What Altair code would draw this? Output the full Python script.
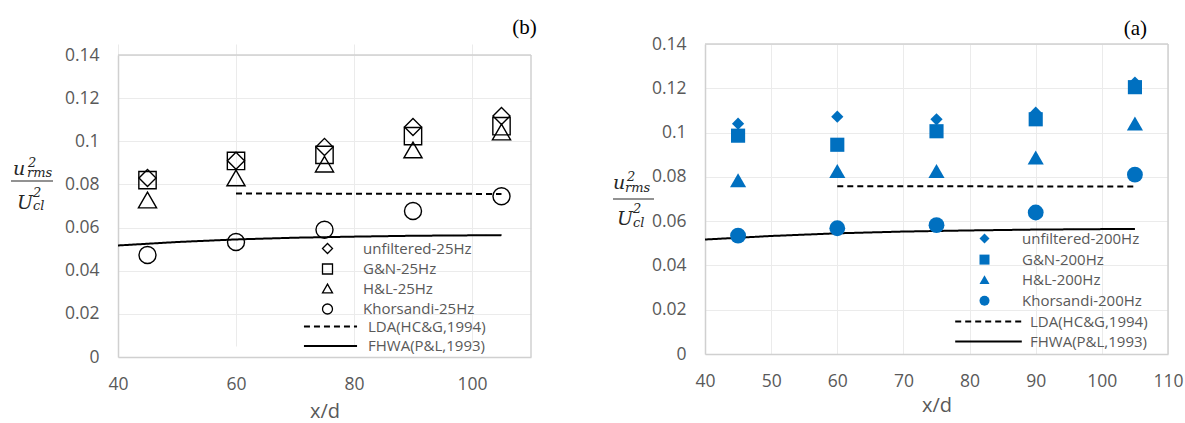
import altair as alt
import pandas as pd

# ---------------- data ----------------
x_pos = [45, 60, 75, 90, 105]

series_b = ["unfiltered-25Hz", "G&N-25Hz", "H&L-25Hz", "Khorsandi-25Hz"]
unfilt_25 = [0.083, 0.091, 0.0974, 0.1066, 0.1117]
gn_25 = [0.082, 0.0909, 0.0937, 0.1024, 0.107]
hl_25 = [0.0728, 0.083, 0.0894, 0.096, 0.1043]
khor_25 = [0.0473, 0.0533, 0.059, 0.0677, 0.0745]

series_a = ["unfiltered-200Hz", "G&N-200Hz", "H&L-200Hz", "Khorsandi-200Hz"]
unfilt_200 = [0.104, 0.1072, 0.106, 0.109, 0.1226]
gn_200 = [0.0986, 0.0945, 0.1006, 0.106, 0.1205]
hl_200 = [0.0785, 0.0826, 0.0826, 0.0887, 0.1041]
khor_200 = [0.0535, 0.0568, 0.0582, 0.0639, 0.081]

ref_names = ["LDA(HC&G,1994)", "FHWA(P&L,1993)"]
lda_x = [60, 105]
lda_y = [0.0758, 0.0756]
fhwa_x = [40, 50, 60, 70, 80, 90, 100, 105]
fhwa_y = [0.0517, 0.0533, 0.0545, 0.0553, 0.0558, 0.0562, 0.0564, 0.0565]

y_ticks = [0, 0.02, 0.04, 0.06, 0.08, 0.1, 0.12, 0.14]
x_ticks_b = [40, 60, 80, 100]
x_ticks_a = [40, 50, 60, 70, 80, 90, 100, 110]
x_domain = [40, 110]
y_domain = [0, 0.14]

shapes = ["diamond", "square", "triangle-up", "circle"]

LABEL_FONT = "Open Sans"
GREY = "#595959"
BLUE = "#0070C0"
FRAME = "#d0d0d0"


def frac_layers(pieces, bar, dy):
    layers = []
    for txt, px, py, fs in pieces:
        layers.append(
            alt.Chart(pd.DataFrame({"t": [txt]}))
            .mark_text(font="DejaVu Serif", fontStyle="italic", fontSize=fs,
                       align="left", baseline="alphabetic", color="#262626")
            .encode(text="t:N", x=alt.value(px), y=alt.value(py + dy))
        )
    x1, x2, yb = bar
    layers.append(
        alt.Chart(pd.DataFrame({"t": [0]}))
        .mark_rule(color="#262626", strokeWidth=1.2)
        .encode(x=alt.value(x1), x2=alt.value(x2), y=alt.value(yb + dy))
    )
    return layers


def panel(series, vals, sizes, filled, color, x_ticks, width, height, top_gap,
          shape_leg, line_leg, frac, leg_row_pad, ttl, ttl_dx, ttl_offset, xt_pad):
    rows = []
    for name, v, sz in zip(series, vals, sizes):
        for xx, yy in zip(x_pos, v):
            rows.append({"x": xx, "y": yy, "series": name, "sz": sz})
    pts = pd.DataFrame(rows)

    lines = pd.DataFrame(
        [{"x": a, "y": b, "ref": ref_names[0]} for a, b in zip(lda_x, lda_y)]
        + [{"x": a, "y": b, "ref": ref_names[1]} for a, b in zip(fhwa_x, fhwa_y)]
    )

    xs = alt.Scale(domain=x_domain, nice=False, zero=False)
    ys = alt.Scale(domain=y_domain, nice=False, range=[height, top_gap])
    x_axis = alt.Axis(values=x_ticks, title="x/d", grid=True, gridColor="#ebebeb",
                      ticks=False, domainColor=FRAME, domainWidth=1.5,
                      labelFont=LABEL_FONT, labelFontSize=17.5, labelColor=GREY,
                      labelPadding=18, titleFont=LABEL_FONT, titleFontSize=20,
                      titleColor=GREY, titleFontWeight="normal", titlePadding=xt_pad,
                      labelFlush=False)
    y_axis = alt.Axis(values=y_ticks, title=None, grid=True, gridColor="#ebebeb",
                      ticks=False, domainColor=FRAME, domainWidth=1.5,
                      labelExpr="format(datum.value, '.2~f')",
                      labelFont=LABEL_FONT, labelFontSize=17.5, labelColor=GREY,
                      labelPadding=19)

    pts_layer = (
        alt.Chart(pts)
        .mark_point(filled=filled, strokeWidth=1.4, opacity=1, color=color)
        .encode(
            x=alt.X("x:Q", scale=xs, axis=x_axis),
            y=alt.Y("y:Q", scale=ys, axis=y_axis),
            shape=alt.Shape(
                "series:N",
                scale=alt.Scale(domain=series, range=shapes),
                legend=alt.Legend(
                    title=None, orient="none", legendX=shape_leg[0],
                    legendY=shape_leg[1] + top_gap,
                    symbolSize=100, symbolStrokeWidth=1.3,
                    symbolStrokeColor=color, symbolFillColor=(color if filled else "white"),
                    labelFont=LABEL_FONT, labelFontSize=15, labelColor=GREY,
                    labelOffset=shape_leg[2], rowPadding=leg_row_pad, padding=0,
                ),
            ),
            size=alt.Size("sz:Q", scale=None),
        )
    )

    line_layer = (
        alt.Chart(lines)
        .mark_line(color="black", strokeWidth=2)
        .encode(
            x=alt.X("x:Q", scale=xs),
            y=alt.Y("y:Q", scale=ys),
            detail="ref:N",
            strokeDash=alt.StrokeDash(
                "ref:N",
                scale=alt.Scale(domain=ref_names, range=[[6, 4], [1, 0]]),
                legend=alt.Legend(
                    title=None, orient="none", legendX=line_leg[0],
                    legendY=line_leg[1] + top_gap,
                    symbolType=line_leg[3], symbolSize=81, symbolStrokeWidth=2,
                    symbolStrokeColor="black",
                    labelFont=LABEL_FONT, labelFontSize=15, labelColor=GREY,
                    labelOffset=line_leg[2], rowPadding=leg_row_pad, padding=0,
                ),
            ),
        )
    )

    # plot-area frame: top and right edges (left/bottom are the axis domains)
    frame_top = alt.Chart(pd.DataFrame({"t": [0]})).mark_rule(
        color=FRAME, strokeWidth=1.5).encode(
        x=alt.datum(x_domain[0], scale=xs), x2=alt.datum(x_domain[1]),
        y=alt.datum(y_domain[1], scale=ys))
    frame_right = alt.Chart(pd.DataFrame({"t": [0]})).mark_rule(
        color=FRAME, strokeWidth=1.5).encode(
        x=alt.datum(x_domain[1], scale=xs),
        y=alt.datum(y_domain[0], scale=ys), y2=alt.datum(y_domain[1]))

    layers = [frame_top, frame_right, line_layer, pts_layer] + frac_layers(*frac, top_gap)
    return alt.layer(*layers).properties(
        width=width, height=height,
        view=alt.ViewBackground(stroke="transparent"),
        title=alt.TitleParams(ttl, anchor="end", font="Liberation Serif",
                              fontSize=21, fontWeight="normal", color="black",
                              dx=ttl_dx, offset=ttl_offset),
    )


left = panel(
    series_b, [unfilt_25, gn_25, hl_25, khor_25], [290, 300, 330, 290],
    False, "black", x_ticks_b, 413, 313, 11,
    shape_leg=(202, 186, 28), line_leg=(205, 264, 30, "M-5.9,0H5.9"),
    frac=([("u", -105, 120, 19), ("2", -90, 112, 13), ("rms", -91, 122, 13),
           ("U", -101, 154, 19), ("2", -85, 142, 13), ("cl", -85, 155, 13)],
          (-107, -65, 126)),
    leg_row_pad=3.5, ttl="(b)", ttl_dx=5, ttl_offset=6, xt_pad=9,
)

right = panel(
    series_a, [unfilt_200, gn_200, hl_200, khor_200], [150, 200, 260, 250],
    True, BLUE, x_ticks_a, 463, 310, 0,
    shape_leg=(272, 187, 30), line_leg=(276, 270, 34, "M-7.4,0H7.4"),
    frac=([("u", -92, 145, 19), ("2", -78, 137, 13), ("rms", -80, 148, 13),
           ("U", -88, 181, 19), ("2", -72, 169, 13), ("cl", -72, 183, 13)],
          (-92, -51, 155)),
    leg_row_pad=4.1, ttl="(a)", ttl_dx=-36, ttl_offset=-4, xt_pad=6,
)

chart = (
    alt.hconcat(left, right, spacing=73)
    .resolve_scale(shape="independent", strokeDash="independent", x="independent", y="independent")
    .resolve_legend(shape="independent", strokeDash="independent")
    .properties(padding={"left": 9, "top": 16, "right": 0, "bottom": 3}, background="white")
)

chart.save("out.html", embed_options={"renderer": "svg", "actions": False})
